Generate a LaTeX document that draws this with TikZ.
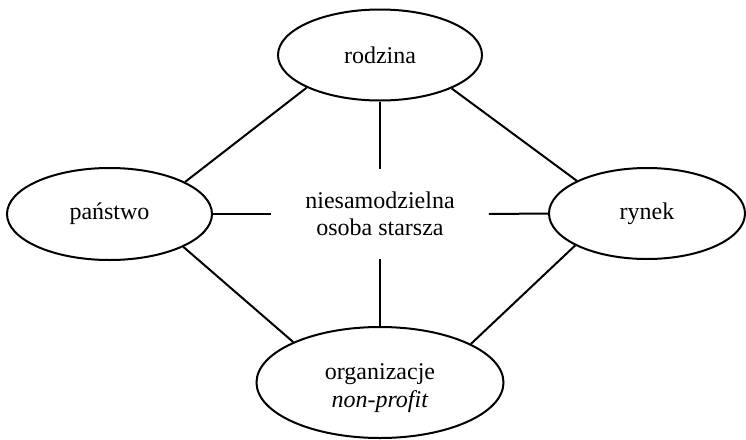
\documentclass[tikz,border=0pt]{standalone}
\usepackage{fontspec}
\setmainfont{Liberation Serif}
\usetikzlibrary{shapes.geometric}
\tikzset{
  ellip/.style={draw, ellipse, line width=1pt, inner sep=0pt},
  conn/.style={line width=1pt},
  lbl/.style={align=center, inner sep=0pt, font=\fontsize{12}{13.75}\selectfont}
}
\begin{document}
\begin{tikzpicture}[x=0.5pt,y=-0.5pt]
\useasboundingbox (0,0) rectangle (746,440);
\node[ellip, minimum width=102pt, minimum height=45.5pt, lbl] (rod) at (380,55) {rodzina};
\node[ellip, minimum width=102.5pt, minimum height=46pt, lbl] (pan) at (109.5,214) {państwo};
\node[ellip, minimum width=98pt, minimum height=45.5pt, lbl] (ryn) at (647,213.5) {rynek};
\node[ellip, minimum width=123.5pt, minimum height=55.5pt] (npo) at (380,382.5) {};
\node[lbl] (npotext) at (380,388) {organizacje\\\textit{non-profit}};
\node[lbl, minimum width=108.5pt, minimum height=45pt] (c) at (380,214) {niesamodzielna\\osoba starsza};
\draw[conn] (rod.204.5) -- (pan.23.5);
\draw[conn] (rod.335.5) -- (ryn.155.5);
\draw[conn] (pan.336.5) -- (npo.155.7);
\draw[conn] (ryn.204.5) -- (npo.23.8);
\draw[conn] (rod.south) -- (c.north);
\draw[conn] (pan.east) -- (c.west);
\draw[conn] (ryn.west) -- (c.east);
\draw[conn] (npo.north) -- (c.south);
\end{tikzpicture}
\end{document}
